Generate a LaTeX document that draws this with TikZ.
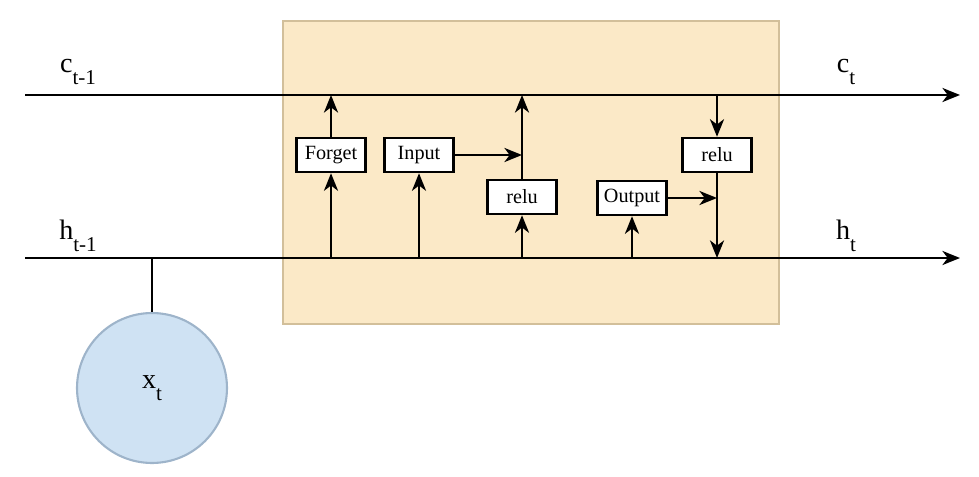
\documentclass[tikz,border=0pt]{standalone}
\usepackage{fontspec}
\setmainfont{Liberation Serif}
\usetikzlibrary{
  calc,
  positioning,
  arrows.meta}
\definecolor{cellfill}{HTML}{FBE9C7}
\definecolor{celldraw}{HTML}{D2BF9A}
\definecolor{xfill}{HTML}{CFE2F3}
\definecolor{xdraw}{HTML}{9EB4CA}

\begin{document}
\begin{tikzpicture}[
  x=0.02cm, y=-0.02cm,
  >={Stealth[length=10pt,width=8pt,inset=3pt]},
  line width=1.4pt,
  gate/.style={draw,fill=white,minimum width=1.38cm,minimum height=0.68cm,inner sep=1pt,font=\fontsize{11.5}{13}\selectfont},
  state/.style={font=\fontsize{16}{18}\selectfont}
]%
  \useasboundingbox (0,0) rectangle (979,476);

  \fill[cellfill,draw=celldraw,line width=1.2pt] (283,21) rectangle (779,324);

  \coordinate (cin) at (25,95);
  \coordinate (cout) at (960,95);
  \coordinate (hin) at (25,258);
  \coordinate (hout) at (960,258);
  \draw[->] (cin) -- (cout);
  \draw[->] (hin) -- (hout);

  \node (cprev) [state] at (78,72) {c\raisebox{-0.9ex}{\fontsize{12}{14}\selectfont t-1}};
  \node (cnext) [state] at (846,72) {c\raisebox{-0.9ex}{\fontsize{12}{14}\selectfont t}};
  \node (hprev) [state] at (78,236) {h\raisebox{-0.9ex}{\fontsize{12}{14}\selectfont t-1}};
  \node (hnext) [state] at (846,236) {h\raisebox{-0.9ex}{\fontsize{12}{14}\selectfont t}};

  \node (xin) [circle,draw=xdraw,fill=xfill,line width=1.2pt,minimum size=3cm,state] at (152,388)
    {x\raisebox{-0.9ex}{\fontsize{12}{14}\selectfont t}};
  \draw (xin |- hin) -- (xin.north);

  \node (forget) [gate] at (331,155) {Forget};
  \node (input) [gate] at (419,155) {Input};
  \node (relua) [gate] at (522,197) {relu};
  \node (output) [gate] at (632,198) {Output};
  \node (relub) [gate] at (717,155) {relu};

  \draw[->] (forget |- hin) -- (forget.south);
  \draw[->] (forget.north) -- (forget |- cin);
  \draw[->] (input |- hin) -- (input.south);
  \draw[->] (input.east) -- (input -| relua);
  \draw[->] (relua |- hin) -- (relua.south);
  \draw[->] (relua.north) -- (relua |- cin);
  \draw[->] (output |- hin) -- (output.south);
  \draw[->] (output.east) -- (output -| relub);
  \draw[->] (relub |- cin) -- (relub.north);
  \draw[->] (relub.south) -- (relub |- hin);
\end{tikzpicture}
\end{document}
